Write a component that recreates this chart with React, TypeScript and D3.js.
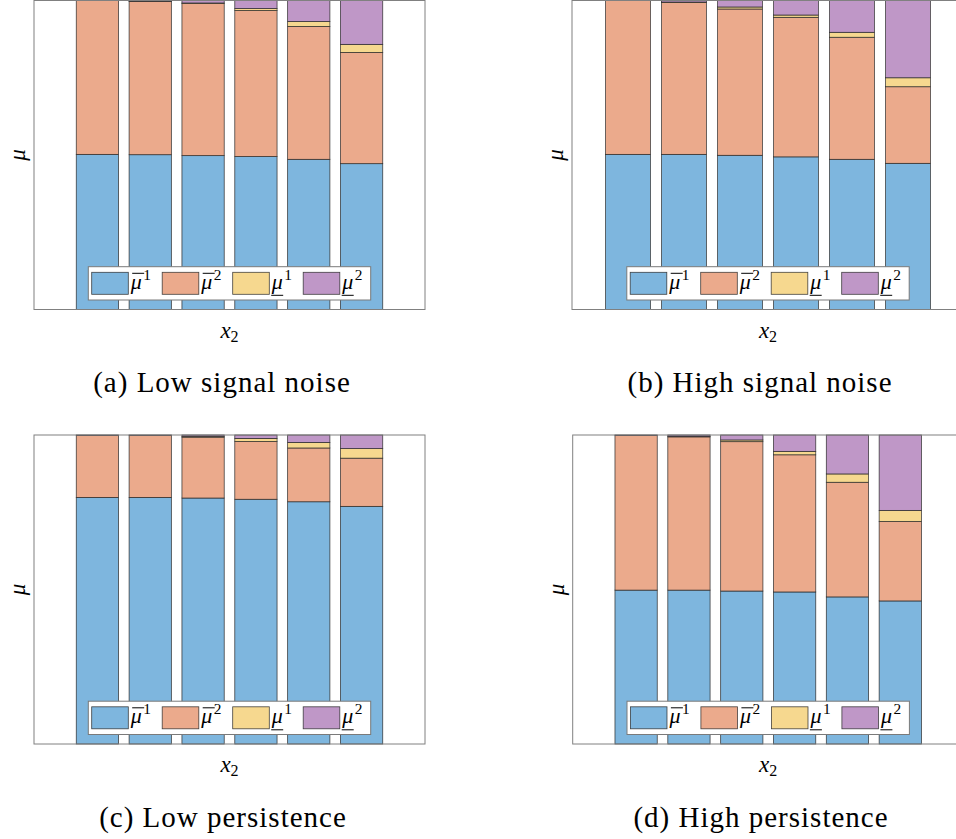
import React from "react";
import * as d3 from "d3";

// Bar positions along x₂ (no tick labels are shown)
const positions = [1, 2, 3, 4, 5, 6];

// Stack order, bottom to top: μ̄¹, μ̄², μ̲¹, μ̲²
const seriesKeys = ["barMu1", "barMu2", "underMu1", "underMu2"];
const seriesColors = ["#7eb6de", "#ebaa8c", "#f6d88f", "#bf97c7"];
const legendDeco = ["over", "over", "under", "under"];
const legendSup = ["1", "2", "1", "2"];

// (a) Low signal noise
const barMu1LowNoise = [0.502, 0.501, 0.498, 0.495, 0.486, 0.472];
const barMu2LowNoise = [0.498, 0.496, 0.492, 0.4725, 0.43, 0.36];
const underMu1LowNoise = [0, 0.001, 0.002, 0.0065, 0.016, 0.026];
const underMu2LowNoise = [0, 0.002, 0.008, 0.026, 0.068, 0.142];

// (b) High signal noise
const barMu1HighNoise = [0.502, 0.502, 0.499, 0.494, 0.486, 0.473];
const barMu2HighNoise = [0.498, 0.492, 0.4735, 0.4515, 0.395, 0.248];
const underMu1HighNoise = [0, 0.001, 0.0065, 0.0075, 0.016, 0.029];
const underMu2HighNoise = [0, 0.005, 0.021, 0.047, 0.103, 0.25];

// (c) Low persistence
const barMu1LowPers = [0.798, 0.798, 0.796, 0.792, 0.784, 0.769];
const barMu2LowPers = [0.201, 0.201, 0.197, 0.187, 0.174, 0.156];
const underMu1LowPers = [0, 0, 0.003, 0.01, 0.018, 0.031];
const underMu2LowPers = [0.001, 0.001, 0.004, 0.011, 0.024, 0.044];

// (d) High persistence
const barMu1HighPers = [0.498, 0.498, 0.495, 0.492, 0.476, 0.463];
const barMu2HighPers = [0.501, 0.496, 0.4835, 0.444, 0.371, 0.257];
const underMu1HighPers = [0, 0.002, 0.0055, 0.011, 0.027, 0.036];
const underMu2HighPers = [0.001, 0.004, 0.016, 0.053, 0.126, 0.244];

const captions = [
  "(a) Low signal noise",
  "(b) High signal noise",
  "(c) Low persistence",
  "(d) High persistence",
];

const panelSeries = [
  [barMu1LowNoise, barMu2LowNoise, underMu1LowNoise, underMu2LowNoise],
  [barMu1HighNoise, barMu2HighNoise, underMu1HighNoise, underMu2HighNoise],
  [barMu1LowPers, barMu2LowPers, underMu1LowPers, underMu2LowPers],
  [barMu1HighPers, barMu2HighPers, underMu1HighPers, underMu2HighPers],
];

// Axes frames and x-limits for each subplot
const frames = [
  { left: 34, top: 0.5, width: 391, height: 309, xDomain: [-0.2, 7.2], capX: 222, capY: 392 },
  { left: 572, top: 0.5, width: 392, height: 309, xDomain: [0, 7], capX: 760, capY: 392 },
  { left: 34, top: 435, width: 391, height: 309, xDomain: [-0.2, 7.2], capX: 223, capY: 827 },
  { left: 572.7, top: 435, width: 391, height: 309, xDomain: [-0.2, 7.2], capX: 761, capY: 827 },
];

const SERIF = "'Liberation Serif', 'Times New Roman', serif";

function MuLabel({ x, y, deco, sup, size }: { x: number; y: number; deco: string; sup: string; size: number }) {
  const w = size * 0.5;
  return (
    <g>
      <text x={x} y={y} fontFamily={SERIF} fontStyle="italic" fontSize={size}>
        μ
      </text>
      <text x={x + w + 1.5} y={y - size * 0.4} fontFamily={SERIF} fontSize={size * 0.7}>
        {sup}
      </text>
      {deco === "over" ? (
        <line x1={x + 1.5} x2={x + w + 2.5} y1={y - size * 0.7} y2={y - size * 0.7} stroke="#000" strokeWidth={1} />
      ) : (
        <line x1={x - 0.5} x2={x + w + 0.5} y1={y + size * 0.3} y2={y + size * 0.3} stroke="#000" strokeWidth={1} />
      )}
    </g>
  );
}

function Panel({ idx }: { idx: number }) {
  const f = frames[idx];
  const data = panelSeries[idx];
  const rows = positions.map((p, i) => {
    const r: any = { pos: p };
    seriesKeys.forEach((k, j) => (r[k] = data[j][i]));
    return r;
  });
  const stacked = d3.stack<any>().keys(seriesKeys)(rows);
  const x = d3.scaleLinear().domain(f.xDomain).range([f.left, f.left + f.width]);
  const y = d3.scaleLinear().domain([0, 1]).range([f.top + f.height, f.top]);
  const bw = x(0.8) - x(0);

  const legW = 282.4;
  const legH = 33.3;
  const legX = f.left + f.width / 2 - legW / 2;
  const legY = f.top + f.height - 9.5 - legH;

  return (
    <g>
      {stacked.map((s, j) => (
        <g key={j} fill={seriesColors[j]}>
          {s.map((d, i) => (
            <rect
              key={i}
              x={x(positions[i]) - bw / 2}
              y={y(d[1])}
              width={bw}
              height={Math.max(0, y(d[0]) - y(d[1]))}
              stroke="#262626"
              strokeOpacity={0.85}
              strokeWidth={0.8}
            />
          ))}
        </g>
      ))}
      <rect x={f.left} y={f.top} width={f.width} height={f.height} fill="none" stroke="#808080" strokeWidth={1} />
      <g>
        <rect x={legX} y={legY} width={legW} height={legH} fill="#fff" stroke="#7a7a7a" strokeWidth={1} />
        {seriesKeys.map((k, j) => {
          const ex = legX + 3.4 + j * 70.5;
          return (
            <g key={k}>
              <rect x={ex} y={legY + 5.6} width={36.6} height={22} fill={seriesColors[j]} stroke="#262626" strokeOpacity={0.85} strokeWidth={0.8} />
              <MuLabel x={ex + 39} y={legY + 22} deco={legendDeco[j]} sup={legendSup[j]} size={22} />
            </g>
          );
        })}
      </g>
      <text
        x={f.left + f.width / 2}
        y={f.top + f.height + 28}
        textAnchor="middle"
        fontFamily={SERIF}
        fontSize={23}
      >
        <tspan fontStyle="italic">x</tspan>
        <tspan fontSize={16} dy={4}>2</tspan>
      </text>
      <text
        transform={`translate(${f.left - 9},${f.top + f.height / 2}) rotate(-90)`}
        textAnchor="middle"
        fontFamily={SERIF}
        fontStyle="italic"
        fontSize={23}
      >
        μ
      </text>
      <text x={f.capX} y={f.capY} textAnchor="middle" fontFamily={SERIF} fontSize={29} letterSpacing={1}>
        {captions[idx]}
      </text>
    </g>
  );
}

export default function App() {
  return (
    <svg
      width={956}
      height={839}
      viewBox="0 0 956 839"
      style={{ position: "absolute", left: 0, top: 0, background: "#fff" }}
    >
      {[0, 1, 2, 3].map((i) => (
        <Panel key={i} idx={i} />
      ))}
    </svg>
  );
}
